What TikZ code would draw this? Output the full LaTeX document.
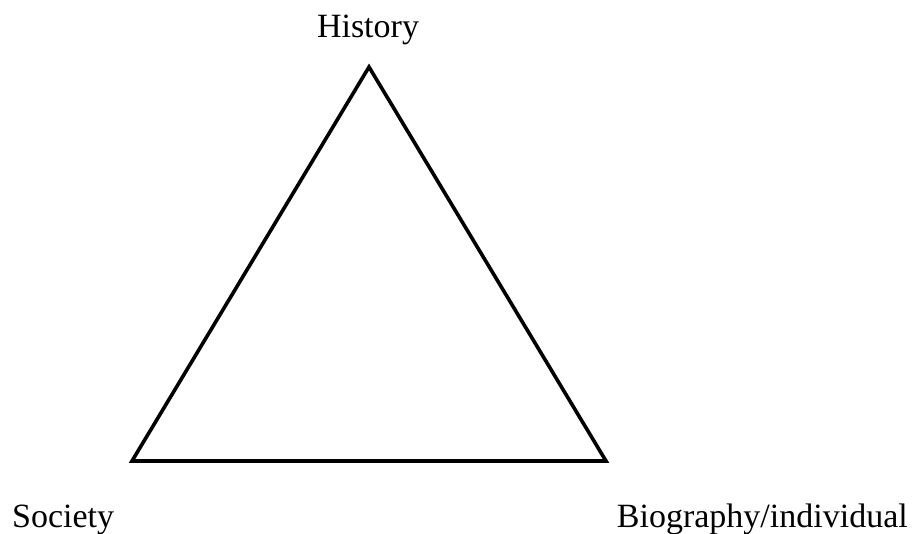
\documentclass[tikz,border=0pt]{standalone}
\usepackage{fontspec}
\setmainfont{Liberation Serif}
\begin{document}
\begin{tikzpicture}[x=1pt,y=-1pt,
  lbl/.style={inner sep=0pt, font=\fontsize{34}{40}\selectfont},
  tri/.style={draw=black, line width=3.6pt, line join=miter}]
\useasboundingbox (0,0) rectangle (924,533);
\coordinate (H) at (369,67);
\coordinate (S) at (132,461);
\coordinate (B) at (606,461);
\draw[tri] (H) -- (S) -- (B) -- cycle;
\node[lbl, anchor=base] (hist) at (368,37) {History};
\node[lbl, anchor=base west] (soc) at (12,527) {Society};
\node[lbl, anchor=base east] (bio) at (908,527) {Biography/individual};
\end{tikzpicture}
\end{document}
